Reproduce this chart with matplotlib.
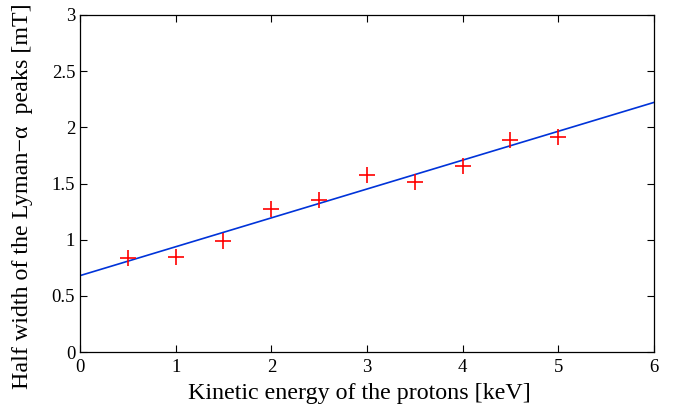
import matplotlib
matplotlib.use("Agg")
import matplotlib.pyplot as plt
import numpy as np

energy_kev = [0.5, 1.0, 1.5, 2.0, 2.5, 3.0, 3.5, 4.0, 4.5, 5.0]
half_width_mt = [0.84, 0.85, 0.99, 1.27, 1.35, 1.58, 1.51, 1.66, 1.89, 1.91]
fit_intercept = 0.68
fit_slope = 0.257
x_ticks = [0, 1, 2, 3, 4, 5, 6]
y_ticks = [0, 0.5, 1, 1.5, 2, 2.5, 3]
y_tick_labels = ["0", "0.5", "1", "1.5", "2", "2.5", "3"]

plt.rcParams['font.family'] = ['Liberation Serif', 'DejaVu Serif']
fig = plt.figure(figsize=(6.74, 4.12), dpi=100)
ax = fig.add_axes([0.1187, 0.1456, 0.8516, 0.818])

xf = np.array([0, 6])
ax.plot(xf, fit_intercept + fit_slope * xf, color=(0, 0.2, 0.85), lw=1.2, zorder=2)
ax.plot(energy_kev, half_width_mt, '+', color='red', ms=12, mew=1.2, zorder=3)

ax.set_xlim(0, 6)
ax.set_ylim(0, 3)
ax.set_xticks(x_ticks)
ax.set_yticks(y_ticks)
ax.set_yticklabels(y_tick_labels)
ax.tick_params(direction='in', top=True, right=True, labelsize=13.5, length=5, width=0.8)
ax.tick_params(axis='x', pad=5)
for s in ax.spines.values():
    s.set_linewidth(0.9)
ax.set_xlabel("Kinetic energy of the protons [keV]", fontsize=17.3)
ax.set_ylabel("Half width of the Lyman\u2212\u03b1  peaks [mT]", fontsize=17.3)
ax.xaxis.set_label_coords(0.486, -0.092)
ax.yaxis.set_label_coords(-0.082, 0.463)

fig.savefig("out.png", dpi=100)
